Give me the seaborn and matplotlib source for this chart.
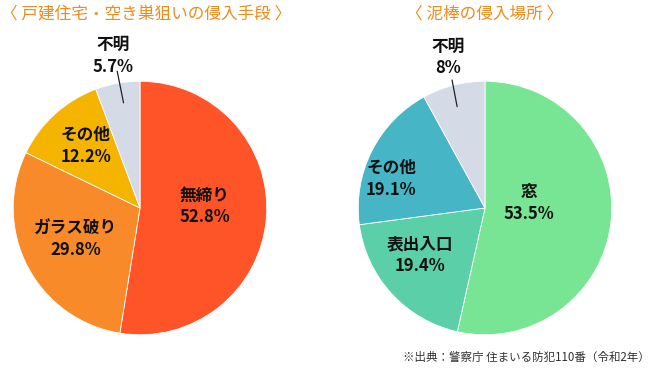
import matplotlib
matplotlib.use("Agg")
import matplotlib.pyplot as plt
import seaborn as sns
import numpy as np

sns.set_theme(style="white")
plt.rcParams['font.family'] = ['Noto Sans CJK JP', 'DejaVu Sans']

# ---- data ----
title1 = "〈 戸建住宅・空き巣狙いの侵入手段 〉"
cats1 = ["無締り", "ガラス破り", "その他", "不明"]
vals1 = [52.8, 29.8, 12.2, 5.7]
pct1 = ["52.8%", "29.8%", "12.2%", "5.7%"]

title2 = "〈 泥棒の侵入場所 〉"
cats2 = ["窓", "表出入口", "その他", "不明"]
vals2 = [53.5, 19.4, 19.1, 8]
pct2 = ["53.5%", "19.4%", "19.1%", "8%"]

source = "※出典：警察庁 住まいる防犯110番（令和2年）"

# ---- styles / layout ----
colors1 = ["#FF5428", "#F88A2A", "#F5B400", "#D4DAE6"]
colors2 = ["#77E594", "#5ACFA8", "#46B5C5", "#D4DAE6"]
lab_pos1 = [(0.51, 0.01), (-0.51, -0.25), (-0.43, 0.49), (-0.21, 1.20)]
lab_pos2 = [(0.35, 0.04), (-0.51, -0.37), (-0.74, 0.23), (-0.29, 1.19)]
leader1 = [(-0.18, 1.08), (-0.13, 0.83)]
leader2 = [(-0.26, 1.01), (-0.22, 0.80)]
title_color = "#EF8C1C"

W, H = 652, 368
fig = plt.figure(figsize=(W / 100, H / 100), dpi=100)

def make_ax(cx, cy, r):
    return fig.add_axes([(cx - r) / W, (H - cy - r) / H, 2 * r / W, 2 * r / H])

def draw(ax, vals, colors, cats, pcts, pos, leader):
    ax.pie(vals, colors=colors, startangle=90, counterclock=False, radius=1,
           wedgeprops=dict(edgecolor="white", linewidth=0.6))
    ax.set_xlim(-1.01, 1.01)
    ax.set_ylim(-1.01, 1.01)
    ax.set_aspect("equal")
    ax.axis("off")
    for c, p, (x, y) in zip(cats, pcts, pos):
        ax.text(x, y, c + "\n" + p, ha="center", va="center", fontsize=12,
                fontweight="bold", color="#111111", linespacing=1.25, clip_on=False)
    (x0, y0), (x1, y1) = leader
    ax.plot([x0, x1], [y0, y1], color="#222222", lw=0.9, clip_on=False)

ax1 = make_ax(140, 208, 128)
draw(ax1, vals1, colors1, cats1, pct1, lab_pos1, leader1)
ax2 = make_ax(485, 208, 128)
draw(ax2, vals2, colors2, cats2, pct2, lab_pos2, leader2)

fig.text(1 / W, 1 - 14 / H, title1, ha="left", va="center", fontsize=12,
         color=title_color)
fig.text(485 / W, 1 - 14 / H, title2, ha="center", va="center", fontsize=12,
         color=title_color)
fig.text(650 / W, 1 - 357 / H, source, ha="right", va="center", fontsize=8.3,
         color="#333333")

fig.savefig("out.png", dpi=100)
